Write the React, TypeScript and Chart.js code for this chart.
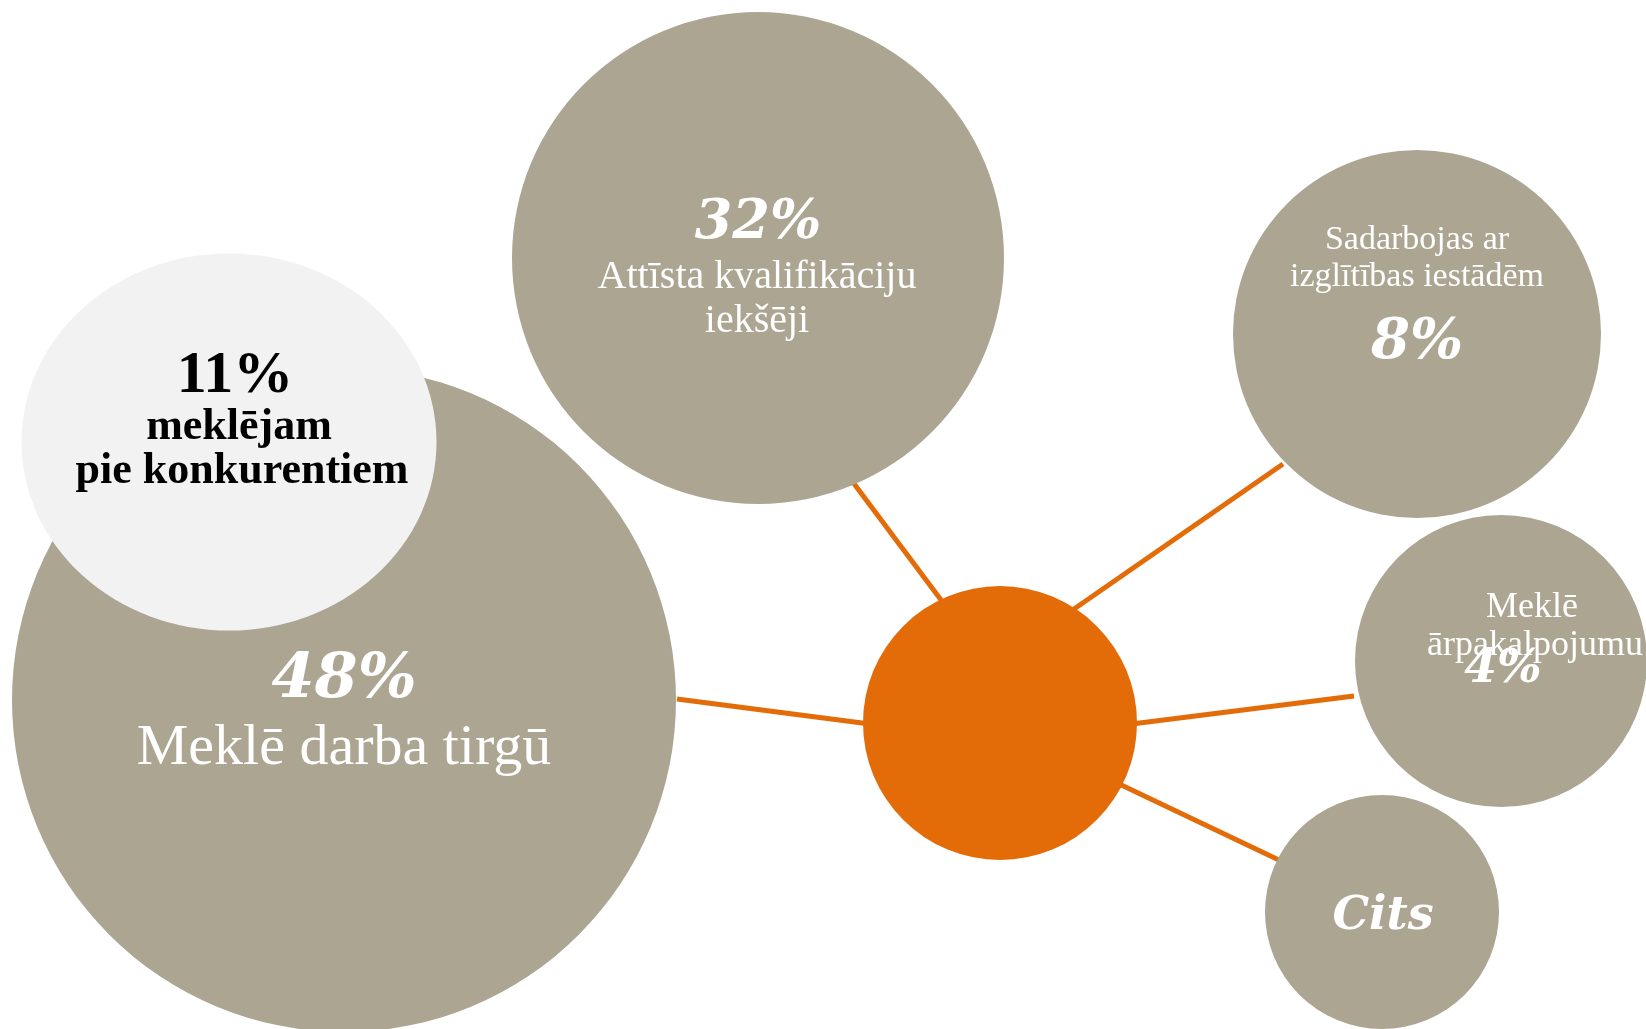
import React, { useEffect, useRef } from 'react';
import { Chart, registerables } from 'chart.js';

Chart.register(...registerables);

// ---- data ----
const shareLabels = ['48%', '11%', '32%', '8%', '4%', 'Cits'];
const categoryLines = [
  ['Meklē darba tirgū'],
  ['meklējam', 'pie konkurentiem'],
  ['Attīsta kvalifikāciju', 'iekšēji'],
  ['Sadarbojas ar', 'izglītības iestādēm'],
  ['Meklē', 'ārpakalpojumu'],
  [] as string[],
];

// bubble centres / radii (diagram units = pixels of the 1646x1029 frame)
const bubbleX = [344, 229, 758, 1417, 1501, 1382];
const bubbleY = [700, 442, 258, 334, 661, 912];
const bubbleR = [332, 198, 246, 184, 146, 117];
const ellipseRX = 208; // the light bubble is slightly elliptical
const ellipseRY = 189;

const hubX = [1000];
const hubY = [723];
const hubR = [137];

// connectors: outer end (at bubble edge) and inner end (inside hub)
const connOuterX = [677, 852, 1283, 1354, 1281];
const connOuterY = [699, 481, 464, 696, 861];
const connInnerX = [893, 959, 1051, 1108, 1094];
const connInnerY = [727, 624, 625, 727, 772];

// ---- layout / style ----
const W = 1646;
const H = 1029;
const GRAY = '#ABA592';
const LIGHT = '#F2F2F2';
const ORANGE = '#E36C09';
const SERIF = '"Liberation Serif", "DejaVu Serif", serif';
const NUM = '"DejaVu Serif", "Liberation Serif", serif';

// anchor for share label and each category line (x, baseline y)
const shareLayout = [
  { x: 344, y: 697, font: `italic bold 62px ${NUM}`, color: '#FFFFFF' },
  { x: 235, y: 392, font: `bold 60px ${SERIF}`, color: '#000000' },
  { x: 758, y: 238, font: `italic bold 54px ${NUM}`, color: '#FFFFFF' },
  { x: 1417, y: 358, font: `italic bold 56px ${NUM}`, color: '#FFFFFF' },
  { x: 1503, y: 682, font: `italic bold 47px ${NUM}`, color: '#FFFFFF' },
  { x: 1383, y: 929, font: `italic bold 46px ${NUM}`, color: '#FFFFFF' },
];
const lineLayout = [
  { x: [344], y: [764], font: `58px ${SERIF}`, color: '#FFFFFF' },
  { x: [239, 242], y: [439, 483], font: `bold 44px ${SERIF}`, color: '#000000' },
  { x: [757, 757], y: [288, 332], font: `40px ${SERIF}`, color: '#FFFFFF' },
  { x: [1417, 1417], y: [249, 286], font: `34px ${SERIF}`, color: '#FFFFFF' },
  { x: [1532, 1535], y: [617, 655], font: `36px ${SERIF}`, color: '#FFFFFF' },
  { x: [], y: [], font: `36px ${SERIF}`, color: '#FFFFFF' },
];

function makeEllipse(rx: number, ry: number, color: string): HTMLCanvasElement {
  const c = document.createElement('canvas');
  c.width = rx * 2;
  c.height = ry * 2;
  const g = c.getContext('2d')!;
  g.fillStyle = color;
  g.beginPath();
  g.ellipse(rx, ry, rx - 0.5, ry - 0.5, 0, 0, Math.PI * 2);
  g.fill();
  return c;
}

const labelPlugin = {
  id: 'bubbleLabels',
  afterDatasetsDraw(chart: any) {
    const { ctx, scales } = chart;
    const sx = scales.x;
    const sy = scales.y;
    ctx.save();
    ctx.textAlign = 'center';
    ctx.textBaseline = 'alphabetic';
    categoryLines.forEach((lines, i) => {
      const L = lineLayout[i];
      ctx.font = L.font;
      ctx.fillStyle = L.color;
      lines.forEach((t, j) => {
        ctx.fillText(t, sx.getPixelForValue(L.x[j]), sy.getPixelForValue(L.y[j]));
      });
    });
    shareLabels.forEach((t, i) => {
      const S = shareLayout[i];
      ctx.font = S.font;
      ctx.fillStyle = S.color;
      ctx.fillText(t, sx.getPixelForValue(S.x), sy.getPixelForValue(S.y));
    });
    ctx.restore();
  },
};

export default function App() {
  const ref = useRef<HTMLCanvasElement | null>(null);

  useEffect(() => {
    document.body.style.margin = '0';
    if (!ref.current) return;

    const grayIdx = [0, 2, 3, 4, 5];
    const lightStyle = makeEllipse(ellipseRX, ellipseRY, LIGHT);

    const connectorSets = connOuterX.map((_, i) => ({
      type: 'line' as const,
      data: [
        { x: connOuterX[i], y: connOuterY[i] },
        { x: connInnerX[i], y: connInnerY[i] },
      ],
      borderColor: ORANGE,
      borderWidth: 5,
      pointRadius: 0,
      showLine: true,
      fill: false,
      clip: false,
      order: 10,
    }));

    const chart = new Chart(ref.current, {
      type: 'bubble',
      data: {
        datasets: [
          ...connectorSets,
          {
            type: 'bubble',
            data: grayIdx.map((i) => ({ x: bubbleX[i], y: bubbleY[i], r: bubbleR[i] })),
            backgroundColor: GRAY,
            borderWidth: 0,
            clip: false,
            order: 4,
          },
          {
            type: 'bubble',
            data: hubX.map((x, i) => ({ x, y: hubY[i], r: hubR[i] })),
            backgroundColor: ORANGE,
            borderWidth: 0,
            clip: false,
            order: 3,
          },
          {
            type: 'bubble',
            data: [{ x: bubbleX[1], y: bubbleY[1], r: bubbleR[1] }],
            backgroundColor: LIGHT,
            borderWidth: 0,
            pointStyle: lightStyle,
            clip: false,
            order: 1,
          },
        ] as any,
      },
      options: {
        animation: false,
        responsive: false,
        devicePixelRatio: 1,
        events: [],
        layout: { padding: 0, autoPadding: false },
        plugins: {
          legend: { display: false },
          tooltip: { enabled: false },
        },
        scales: {
          x: { type: 'linear', min: 0, max: W, display: false },
          y: { type: 'linear', min: 0, max: H, reverse: true, display: false },
        },
      },
      plugins: [labelPlugin],
    });

    return () => chart.destroy();
  }, []);

  return (
    <div style={{ width: W, height: H, overflow: 'hidden', background: '#FFFFFF' }}>
      <canvas ref={ref} width={W} height={H} style={{ display: 'block' }} />
    </div>
  );
}
